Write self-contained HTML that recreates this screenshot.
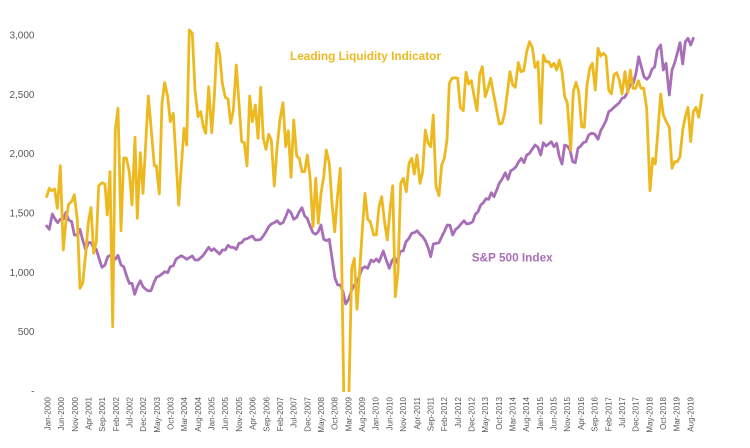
<!DOCTYPE html>
<html>
<head>
<meta charset="utf-8">
<style>
  html,body{margin:0;padding:0;background:#ffffff;}
  svg{display:block;}
  .yl{font-family:"Liberation Sans",Arial,sans-serif;font-size:10px;fill:#595959;}
  .xl{font-family:"Liberation Sans",Arial,sans-serif;font-size:8px;fill:#595959;}
</style>
</head>
<body>
<svg width="750" height="448" viewBox="0 0 750 448" xmlns="http://www.w3.org/2000/svg">
  <defs>
    <clipPath id="plot"><rect x="0" y="0" width="750" height="392"/></clipPath>
  </defs>
  <rect x="0" y="0" width="750" height="448" fill="#ffffff"/>

  <!-- Y axis labels -->
  <g class="yl" text-anchor="end">
    <text x="34.5" y="38.5">3,000</text>
    <text x="34.5" y="97.8">2,500</text>
    <text x="34.5" y="157.2">2,000</text>
    <text x="34.5" y="216.5">1,500</text>
    <text x="34.5" y="275.8">1,000</text>
    <text x="34.5" y="335.2">500</text>
    <text x="34.5" y="394.5">-</text>
  </g>

  <!-- S&P 500 -->
  <polyline fill="none" stroke="#A86FB8" stroke-width="2.8" stroke-linejoin="round" stroke-linecap="round"
    points="46.7,226 49.3,229.3 52.3,214 55,219 57.7,222.7 60.3,219.3 63.3,219 66,212.3 68.7,220 71.7,221.7 74.3,235 77.3,235 80,229.3 82.7,240 85.7,250 88.3,242.7 91,242.7 93.7,248.3 96.3,249.3 99.3,259.3 102,267.3 105,265 107.7,256.7 110.3,255.3 112.7,256 115.3,259.3 118,255.3 121,265 123.7,266.7 126.3,275 129.3,283.3 132,283.3 134.7,294.3 137.3,286.7 140.3,280.7 143,286.7 145.7,289.3 148.3,291 151,290.7 153.7,283.3 156.3,277.3 159.3,276 162,274 164.7,271.7 167.7,272.7 170.3,266.7 173.3,265.7 176,259.3 178.7,257.3 181.3,255.7 184,257.3 186.7,259.3 189.3,257.7 192.3,256 195,260 198,260 200,258.3 202.7,256 205.7,251.7 208.7,247.3 211.3,250.7 214,248.7 217,251.7 219.7,254 222.3,250 225.3,250 228,245.3 230.7,247.3 233.3,247.3 236.3,249.3 239,243.3 241.7,242.7 244.3,239.3 247,238.7 249.7,237.3 252.3,236 255.3,240 258,240 260.7,239.3 263.3,236 266,231.7 268.7,226.7 271.3,224 274.3,222.7 277,220.7 280,224 283,222.7 285.7,216.7 288.3,210 291,212.7 293.7,219.3 296.7,217.3 299.3,211.7 302,207.7 304.7,216 307.3,218.3 310,226 313,232.7 315.7,234.3 318.3,231.7 321,225 323.7,239.3 326.7,240.7 329.3,239.3 332.3,260 335,278.3 337.7,285 340.3,285 343,291.7 345.7,304 348.3,300 351.7,290 354.3,285 357,281.7 359.7,275 362.3,268.3 365,266.7 367.7,268.3 371,260 373.7,261.7 376.3,259 379,262 383.3,251 386,259.3 389.3,268.3 392,260.7 394.7,257.3 397.3,262.7 400,251.7 403.3,250.7 406,241.7 409,238.3 411.7,233.3 414.3,232.7 417,230.7 420,234.3 422.7,236.7 425.3,240.7 428,247.3 430.7,256.7 433.3,244 436.3,243.3 439,242.7 441.7,236.7 444.7,230.7 447.3,225 450,225.3 452.7,235 455.7,229.3 458.3,227.3 461,224 464,220.7 466.7,224 470,223.3 472.7,221.7 475.3,214.3 478,211.7 480.7,205 483.3,202.7 486,198.7 488.7,199.3 491.3,192.7 494,196.7 496.7,190 499.3,183.3 502,179.3 505.3,172.7 508,179.3 510.7,170.7 513.3,169.3 516,166.7 518.7,161.7 521.3,158.3 524,162.7 526.7,155 529.3,153.5 532,149.5 535,145 538,147.3 540.7,155 543.3,142.7 546,146 548.7,144 551.3,141.7 554,146.7 556.7,143.3 559.3,156.7 562,164 564.7,145 567.3,146 570,150 572.7,161.7 575.3,162.7 578,148.3 580.7,146 583.3,142.7 586,141.7 588.7,135 591.3,133.3 594.7,134 598,139.3 600.7,130.7 603.3,126 606,120.7 608.7,111.7 611.3,110 614,107.3 616.7,105 619.3,102.7 622,98.3 624.7,97.3 627.3,92.7 630,85 633.3,83.3 636,73.3 638.7,56.7 641.3,66.7 644,76.7 646.7,79.3 649.3,76.7 652,69.3 654.7,66.7 657.3,50 660.7,45 663.3,70 666,63.3 669.3,95 672,70 674.7,62.7 677.3,53.3 680,42.7 682.7,64 685.3,41.7 688,38.3 690.7,45 693.3,38.3"/>

  <!-- Leading Liquidity Indicator -->
  <polyline clip-path="url(#plot)" fill="none" stroke="#EDB920" stroke-width="2.8" stroke-linejoin="round" stroke-linecap="round"
    points="46.7,196.7 49.3,188.3 51.7,190.7 54.7,189 57.3,208.3 60.3,165.7 63.3,250 66,220 68.7,204 71.7,201.7 74.3,194.7 77.3,220 80,288.3 82.7,283.3 85.7,253.3 88.3,222.7 91,207.7 93.7,253.3 96.3,241.7 98.7,185.7 102,182.7 105,184 107.3,215 110,171.7 112.7,326.7 115.3,130 118,108.3 121,230.7 123.7,158 126.3,158 129.3,171.7 132,205 135,137.3 137.3,218.3 140.3,152.7 143,193.3 148.3,96 151,126.7 154.3,165.7 156.3,165.7 159.3,194 162,103.3 164.7,82.7 167.7,96.7 170.3,121.7 173.3,113.3 178.7,205 184,128.3 186.7,145 189.3,30 192.3,33.3 195,90 198,116.7 200.7,111.7 203.3,126.7 205.7,133.3 208.7,86.7 211.7,132.7 214.3,96.7 217,43.3 219.7,54.3 222.3,83.3 225.3,97.3 228,99 230.7,123.3 233.3,110.7 236.3,65 239,103.3 241.7,141.7 244.3,142.7 247,166 249.7,96 252.3,121.7 255.3,105 258,138.3 260.7,87.3 263.3,138.3 266,149.3 268.7,134.3 271.3,140 274.3,186 277,148.3 280,119.3 283,102.7 285.7,146.7 288.3,130.7 291,177.3 293.7,120 296.7,156 299.3,158.3 302,171.7 304.7,171.7 307.3,155 310,176.7 313,226.7 315.7,178.3 318.3,223.3 321,193.3 323.7,176.7 326.3,150 329.3,163.3 332,203.3 334.7,231.7 337.3,198.3 340.3,168.3 343.7,391 346.3,430 349,391 351.7,268.3 354.3,258.3 357,309.3 359.7,270 362.3,230 365,193.3 367.7,219.3 370.3,221.7 373.7,235 376.3,235 379,206.7 381.7,196.7 384.3,220 387.3,240 390,210 392.7,185.7 395.3,296.7 398,271.7 400.7,183.3 403.3,178.3 406.3,191.7 409,163.3 411.7,158.3 414.3,174 417,155 420,183.3 422.7,171.7 425.3,130 428,142.7 430.7,146.7 433.3,115 436,186.7 439,195.7 441.7,165 444.3,158.3 447,140 449.3,83.3 452,78.3 455,77.7 457.7,78.3 460.3,107.3 463.3,110.7 466,72.3 468.7,84 471.3,80.7 474.3,97.3 477,110.7 479.7,74.3 482.3,66.7 485.3,96.7 488,88.3 490.7,78.3 493.3,92.7 496,106.7 499.3,124 502,123.3 504.7,113.3 507.3,92.7 510,71.7 512.7,85 515.3,87.3 518.3,62.7 521,71.7 523.7,70.7 526.7,51.7 529.5,41.7 532.3,47.5 535,67.5 538,61.7 540.7,123.3 543.3,55 546,61.7 548.7,61.7 551.3,66.7 554,63.3 556.7,70 559.3,60 562,71.7 564.7,96.7 567.3,102.7 570.7,150 573.3,91.7 576,82.3 578.7,91.7 581.7,126.7 584.3,127.3 587,85 589.7,68.3 592.3,63.3 595.3,90 598,48.3 600.7,56 603.3,53.3 606,56 608.7,90 611.3,94 614,75 616.7,72.7 619.3,80 622,94 625,71.7 627.7,92.7 630.3,70 633,88.3 635.7,88.3 638.3,80.7 641,88.3 643.7,88.3 646.7,108.3 650,190.7 652.7,158.3 655.3,164 658,130 660.7,94 663.3,115 666,121 669.3,127.3 672,168.3 674.7,161.7 677.3,161.7 680,156.7 682.7,130 685.3,116.7 688,107.3 690.7,141.7 693.3,111.7 696,107.3 698.7,117.3 702,95"/>

  <!-- Series labels -->
  <text x="290" y="60" font-family="Liberation Sans, Arial, sans-serif" font-size="12" font-weight="bold" fill="#EDB920" textLength="151" lengthAdjust="spacingAndGlyphs">Leading Liquidity Indicator</text>
  <text x="471.7" y="261.5" font-family="Liberation Sans, Arial, sans-serif" font-size="12" font-weight="bold" fill="#A86FB8" textLength="81" lengthAdjust="spacingAndGlyphs">S&amp;P 500 Index</text>

  <!-- X axis labels -->
  <g class="xl" text-anchor="end">
    <text transform="translate(50.4,397) rotate(-90)">Jan-2000</text>
    <text transform="translate(64.08,397) rotate(-90)">Jun-2000</text>
    <text transform="translate(77.76,397) rotate(-90)">Nov-2000</text>
    <text transform="translate(91.44,397) rotate(-90)">Apr-2001</text>
    <text transform="translate(105.12,397) rotate(-90)">Sep-2001</text>
    <text transform="translate(118.8,397) rotate(-90)">Feb-2002</text>
    <text transform="translate(132.48,397) rotate(-90)">Jul-2002</text>
    <text transform="translate(146.16,397) rotate(-90)">Dec-2002</text>
    <text transform="translate(159.84,397) rotate(-90)">May-2003</text>
    <text transform="translate(173.52,397) rotate(-90)">Oct-2003</text>
    <text transform="translate(187.2,397) rotate(-90)">Mar-2004</text>
    <text transform="translate(200.88,397) rotate(-90)">Aug-2004</text>
    <text transform="translate(214.56,397) rotate(-90)">Jan-2005</text>
    <text transform="translate(228.24,397) rotate(-90)">Jun-2005</text>
    <text transform="translate(241.92,397) rotate(-90)">Nov-2005</text>
    <text transform="translate(255.6,397) rotate(-90)">Apr-2006</text>
    <text transform="translate(269.28,397) rotate(-90)">Sep-2006</text>
    <text transform="translate(282.96,397) rotate(-90)">Feb-2007</text>
    <text transform="translate(296.64,397) rotate(-90)">Jul-2007</text>
    <text transform="translate(310.32,397) rotate(-90)">Dec-2007</text>
    <text transform="translate(324,397) rotate(-90)">May-2008</text>
    <text transform="translate(337.68,397) rotate(-90)">Oct-2008</text>
    <text transform="translate(351.36,397) rotate(-90)">Mar-2009</text>
    <text transform="translate(365.04,397) rotate(-90)">Aug-2009</text>
    <text transform="translate(378.72,397) rotate(-90)">Jan-2010</text>
    <text transform="translate(392.4,397) rotate(-90)">Jun-2010</text>
    <text transform="translate(406.08,397) rotate(-90)">Nov-2010</text>
    <text transform="translate(419.76,397) rotate(-90)">Apr-2011</text>
    <text transform="translate(433.44,397) rotate(-90)">Sep-2011</text>
    <text transform="translate(447.12,397) rotate(-90)">Feb-2012</text>
    <text transform="translate(460.8,397) rotate(-90)">Jul-2012</text>
    <text transform="translate(474.48,397) rotate(-90)">Dec-2012</text>
    <text transform="translate(488.16,397) rotate(-90)">May-2013</text>
    <text transform="translate(501.84,397) rotate(-90)">Oct-2013</text>
    <text transform="translate(515.52,397) rotate(-90)">Mar-2014</text>
    <text transform="translate(529.2,397) rotate(-90)">Aug-2014</text>
    <text transform="translate(542.88,397) rotate(-90)">Jan-2015</text>
    <text transform="translate(556.56,397) rotate(-90)">Jun-2015</text>
    <text transform="translate(570.24,397) rotate(-90)">Nov-2015</text>
    <text transform="translate(583.92,397) rotate(-90)">Apr-2016</text>
    <text transform="translate(597.6,397) rotate(-90)">Sep-2016</text>
    <text transform="translate(611.28,397) rotate(-90)">Feb-2017</text>
    <text transform="translate(624.96,397) rotate(-90)">Jul-2017</text>
    <text transform="translate(638.64,397) rotate(-90)">Dec-2017</text>
    <text transform="translate(652.32,397) rotate(-90)">May-2018</text>
    <text transform="translate(666,397) rotate(-90)">Oct-2018</text>
    <text transform="translate(679.68,397) rotate(-90)">Mar-2019</text>
    <text transform="translate(693.36,397) rotate(-90)">Aug-2019</text>
  </g>
</svg>
</body>
</html>
